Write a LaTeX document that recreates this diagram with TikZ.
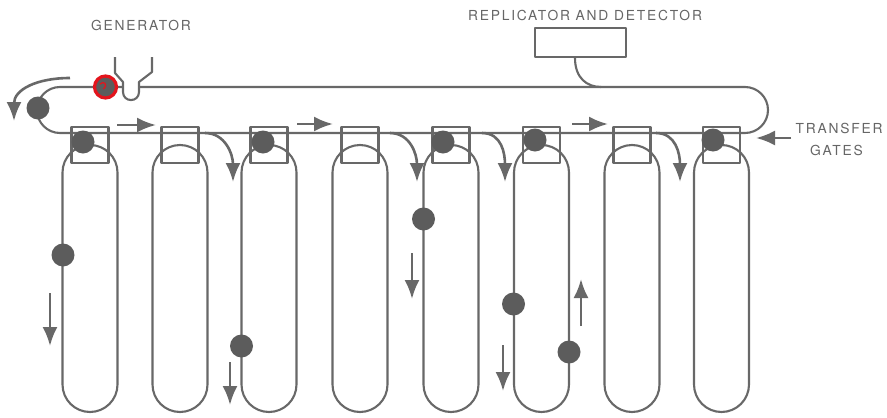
\documentclass[tikz,border=0pt]{standalone}
\usepackage{fontspec}
\setmainfont{TeX Gyre Heros}[LetterSpace=13]
\usetikzlibrary{arrows.meta}
\definecolor{ink}{HTML}{686868}
\definecolor{dotc}{HTML}{5C5C5C}
\definecolor{txt}{HTML}{666666}
\definecolor{redpen}{HTML}{E3141C}

\begin{document}
\begin{tikzpicture}[x=1pt,y=-1pt,line join=round,
  wire/.style={draw=ink,line width=2.1pt},
  gate/.style={draw=ink,line width=2.1pt,minimum width=37pt,minimum height=36pt,inner sep=0pt},
  bead/.style={circle,fill=dotc,minimum size=23pt,inner sep=0pt},
  flow/.style={draw=ink,line width=2.6pt,-{Latex[length=19pt,width=15pt]}},
  lbl/.style={text=txt,font=\fontsize{13.8}{16}\selectfont,inner sep=0pt,anchor=base}]

\fill[white] (0,0) rectangle (887,418);
\useasboundingbox (0,0) rectangle (887,418);

% labels
\node[lbl] (gen) at (141,30.5) {GENERATOR};
\node[lbl] (rep) at (585,20.5) {REPLICATOR AND DETECTOR};
\node[lbl] (tr1) at (839,133) {TRANSFER};
\node[lbl] (tr2) at (836.5,155) {GATES};

% replicator and detector box with its tap onto the loop
\node[draw=ink,line width=2.1pt,minimum width=91pt,minimum height=29pt,inner sep=0pt] (box) at (580.5,42.5) {};
\coordinate (tap) at (601,87);
\draw[wire] ([xshift=-5.5pt]box.south) .. controls +(0,20) and +(-14,0) .. (tap);

% main storage loop, open where the generator feeds in
\draw[wire,rounded corners=23pt] (123,87) -- (37,87) -- (37,133) -- (768,133) -- (768,87) -- (139,87);

% generator funnel
\draw[wire] (115,57) -- (115,73) -- (123,82) -- (123,92)
  .. controls (123,102.7) and (139,102.7) .. (139,92) -- (139,82) -- (152,72) -- (152,57);

% transfer gates and minor loops
\foreach \i/\c in {1/90,2/180,3/269,4/360,5/451,6/541.5,7/632,8/721.5}{
  \node[gate] (g\i) at (\c,145) {};
  \draw[wire,rounded corners=27.5pt] (\c-27.5,145) rectangle (\c+27.5,412);
}

% bubbles at the open gates
\foreach \i/\x/\y in {1/83/142,3/263/142,5/443/142,6/535/140,8/713/140}{
  \node[bead] (gb\i) at (\x,\y) {};
}

% bubbles travelling round the minor loops and the main loop
\foreach \i/\x/\y in {1/63/255,2/241.5/346,3/423.5/219,4/513.5/304,5/569/352,6/38/108}{
  \node[bead] (tb\i) at (\x,\y) {};
}

% freshly generated bubble, circled
\node[bead,minimum size=20pt] (seed) at (105.5,87) {};
\node[circle,draw=redpen,line width=3.2pt,minimum size=22pt,inner sep=0pt] (ring) at (105.5,87) {};
\draw[draw=redpen,line width=1.3pt] (100,84) .. controls (103.5,80.5) and (108.5,84) .. (103.5,89);

% straight flow arrows
\foreach \n/\xa/\ya/\xb/\yb in {
  1/50/293/50/346, 2/230/362/230/405, 3/412/253/412/299, 4/503/345/503/391,
  5/581/326/581/279, 6/117/125/156/125, 7/297/124/333/124, 8/572/124/608/124,
  9/791/138/756/138}{
  \coordinate (s\n) at (\xa,\ya);
  \coordinate (e\n) at (\xb,\yb);
  \draw[flow] (s\n) -- (e\n);
}

% bubbles diverted into the minor loops
\foreach \n/\s/\h in {1/205/233,2/390/417,3/482/505,4/656/680}{
  \coordinate (ds\n) at (\s,133);
  \coordinate (de\n) at (\h,182);
  \draw[flow] (ds\n) .. controls +(20,0) and +(0,-28) .. (de\n);
}

% bubble leaving the end of the main loop
\coordinate (ls) at (70,78);
\coordinate (le) at (14,121);
\draw[flow] (ls) .. controls (36,78) and (14,90) .. (le);
\end{tikzpicture}
\end{document}
